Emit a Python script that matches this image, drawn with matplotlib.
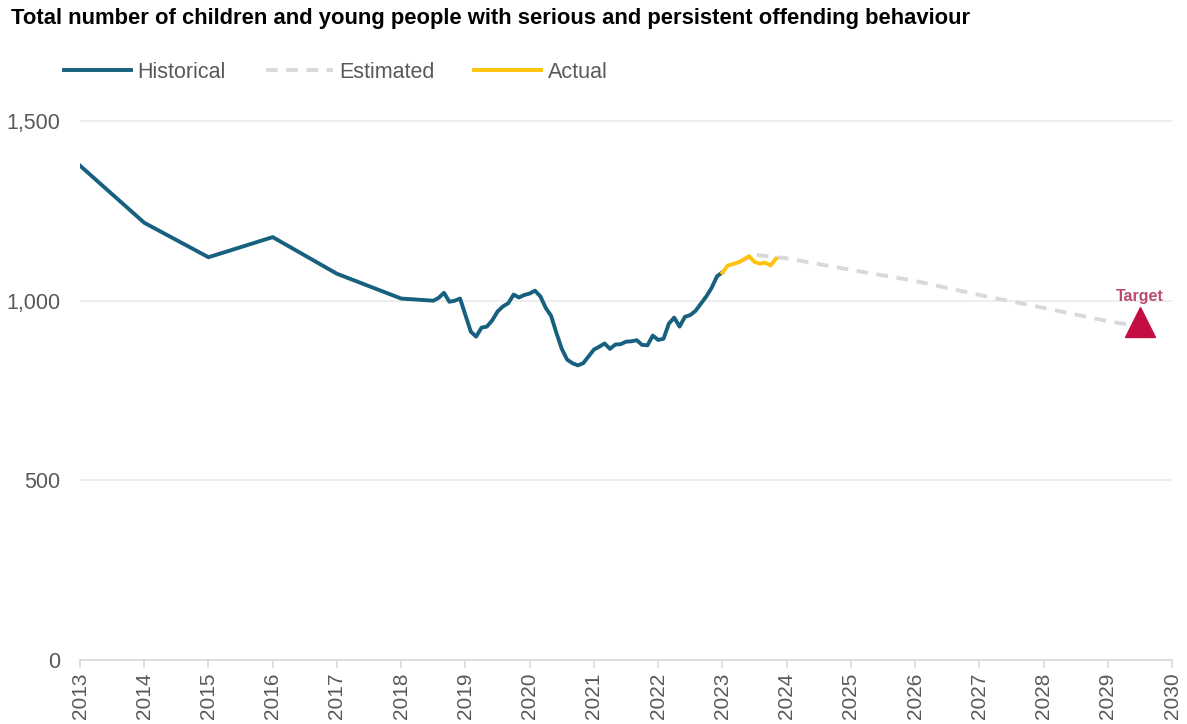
import numpy as np
import matplotlib
matplotlib.use("Agg")
import matplotlib.pyplot as plt
from matplotlib.ticker import FuncFormatter

plt.rcParams['font.family'] = ['Liberation Sans', 'DejaVu Sans']

# --- Data (decimal years) ---
# annual points 2013-2018, then monthly from mid 2018
hist_x = [2013, 2014, 2015, 2016, 2017, 2018] + [2018.5 + i / 12 for i in range(55)]
hist_y = [1376, 1217, 1121, 1177, 1075, 1006,
          1000, 1008, 1022, 997, 1000, 1006,
          960, 914, 900, 925, 928, 945, 970, 984, 993, 1017, 1009, 1016,
          1020, 1028, 1012, 980, 958, 910, 866, 836, 826, 820, 826, 845,
          864, 872, 881, 866, 878, 879, 886, 887, 890, 877, 876, 903,
          891, 894, 936, 953, 928, 955, 960, 972, 992, 1012, 1036, 1068,
          1079]

actual_x = [2023 + i / 12 for i in range(11)]
actual_y = [1078, 1098, 1102, 1107, 1115, 1124, 1108, 1103, 1106, 1098, 1117]

est_x = [2023.25, 2023.5, 2024, 2025, 2026, 2027, 2028, 2029, 2029.45]
est_y = [1106, 1128, 1118, 1086, 1055, 1016, 980, 943, 930]

target_x = 2029.5
target_y = 940

years = list(range(2013, 2031))
yticks = [0, 500, 1000, 1500]

# --- Plot ---
fig = plt.figure(figsize=(11.87, 7.24), dpi=100)
ax = fig.add_axes([0.0674, 0.0884, 0.920, 0.794])

grey_txt = '#595959'
ax.plot(est_x, est_y, color='#D9D9D9', lw=2.8, ls=(0, (3, 2.2)), label='Estimated', zorder=2)
ax.plot(hist_x, hist_y, color='#17607F', lw=2.8, label='Historical', zorder=3,
        solid_joinstyle='round')
ax.plot(actual_x, actual_y, color='#FFC20E', lw=2.8, label='Actual', zorder=4,
        solid_joinstyle='round')

ax.plot([target_x], [target_y], marker='^', ms=21, color='#C40D42', ls='none', zorder=5)
ax.text(target_x, 1013, 'Target', color='#B84C74', fontsize=11.5, fontweight='bold',
        ha='center', va='center')

ax.set_xlim(2013, 2030)
ax.set_ylim(0, 1600)
ax.set_xticks(years)
ax.set_xticklabels([str(y) for y in years], rotation=90, color=grey_txt, fontsize=15)
ax.set_yticks(yticks)
ax.yaxis.set_major_formatter(FuncFormatter(lambda v, p: f'{int(v):,}'))
ax.tick_params(axis='y', length=0, labelsize=15.5, labelcolor=grey_txt, pad=14)
ax.tick_params(axis='x', length=6, color='#D9D9D9', width=1.2, pad=3)
ax.grid(axis='y', color='#EBEBEB', lw=1.2)
ax.set_axisbelow(True)
for s in ['top', 'right', 'left']:
    ax.spines[s].set_visible(False)
ax.spines['bottom'].set_color('#D9D9D9')
ax.spines['bottom'].set_linewidth(1.2)
ax.spines['bottom'].set_zorder(1)

fig.text(0.009, 0.974, 'Total number of children and young people with serious and persistent offending behaviour',
         fontsize=15.8, fontweight='bold', ha='left', va='center')

h, l = ax.get_legend_handles_labels()
order = [1, 0, 2]
fig.legend([h[i] for i in order], [l[i] for i in order], loc='center left',
           bbox_to_anchor=(0.038, 0.9), ncol=3, frameon=False, fontsize=15.5,
           handlelength=3.1, handletextpad=0.3, columnspacing=1.85, labelcolor=grey_txt)

fig.savefig('out.png', dpi=100)
